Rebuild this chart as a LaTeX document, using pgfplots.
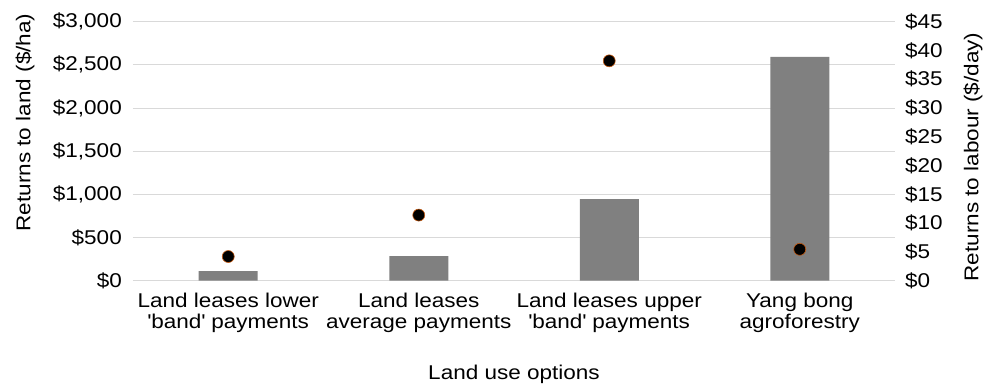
\documentclass[border=0pt]{standalone}
\usepackage{pgfplots}
\pgfplotsset{compat=1.18}
\usepackage{fontspec}
\setmainfont{Liberation Sans}[FakeStretch=1.13]
\definecolor{bargray}{HTML}{808080}
\definecolor{gridgray}{HTML}{D9D9D9}
\definecolor{dotedge}{HTML}{C55A11}

\begin{document}
\begin{tikzpicture}
% overall page: 986 x 386 bp, plot area starts at (0,0)
\path[use as bounding box] (-133bp,-105.3bp) rectangle (853bp,280.7bp);
\pgfplotsset{
  every axis/.append style={
    scale only axis, width=762bp, height=259bp,
    xmin=-0.5, xmax=3.5,
    font=\fontsize{20}{20.6}\selectfont,
    major tick length=0pt,
  }
}
% returns to land: bars on the left axis
\begin{axis}[
  ymin=0, ymax=3000,
  ytick={0,500,...,3000},
  yticklabels={{\$0},{\$500},{\$1,000},{\$1,500},{\$2,000},{\$2,500},{\$3,000}},
  yticklabel style={anchor=east, inner sep=0pt, xshift=-11bp},
  xtick={0,1,2,3},
  xticklabels={
    {Land leases lower\\\textquotesingle band\textquotesingle{} payments},
    {Land leases\\average payments},
    {Land leases upper\\\textquotesingle band\textquotesingle{} payments},
    {Yang bong\\agroforestry}},
  xticklabel style={align=center, anchor=north, inner sep=0pt, yshift=-12.6bp},
  ymajorgrids, grid style={gridgray, line width=1bp},
  axis line style={draw=none},
  xlabel={Land use options},
  xlabel style={at={(axis description cs:0.5,-0.3255)}, anchor=north, inner sep=0pt},
  ylabel={Returns to land (\$/ha)},
  ylabel style={at={(axis description cs:-0.1417,0.611)}, anchor=center, inner sep=0pt},
]
\addplot[ybar, bar width=59bp, fill=bargray, draw=none]
  coordinates {(0,112) (1,286) (2,946) (3,2594)};
\end{axis}
% returns to labour: dots on the right axis
\begin{axis}[
  ymin=0, ymax=45,
  ytick={0,5,...,45},
  yticklabels={{\$0},{\$5},{\$10},{\$15},{\$20},{\$25},{\$30},{\$35},{\$40},{\$45}},
  yticklabel style={anchor=west, inner sep=0pt, xshift=10bp},
  axis y line*=right, axis x line=none,
  y axis line style={draw=none},
  ylabel={Returns to labour (\$/day)},
  ylabel style={at={(axis description cs:1.1024,0.4776)}, anchor=center, inner sep=0pt},
]
\addplot[only marks, mark=*, mark size=6bp,
  mark options={fill=black, draw=dotedge, line width=0.6bp}]
  coordinates {(0,4.2) (1,11.4) (2,38.2) (3,5.45)};
\end{axis}
\end{tikzpicture}
\end{document}
